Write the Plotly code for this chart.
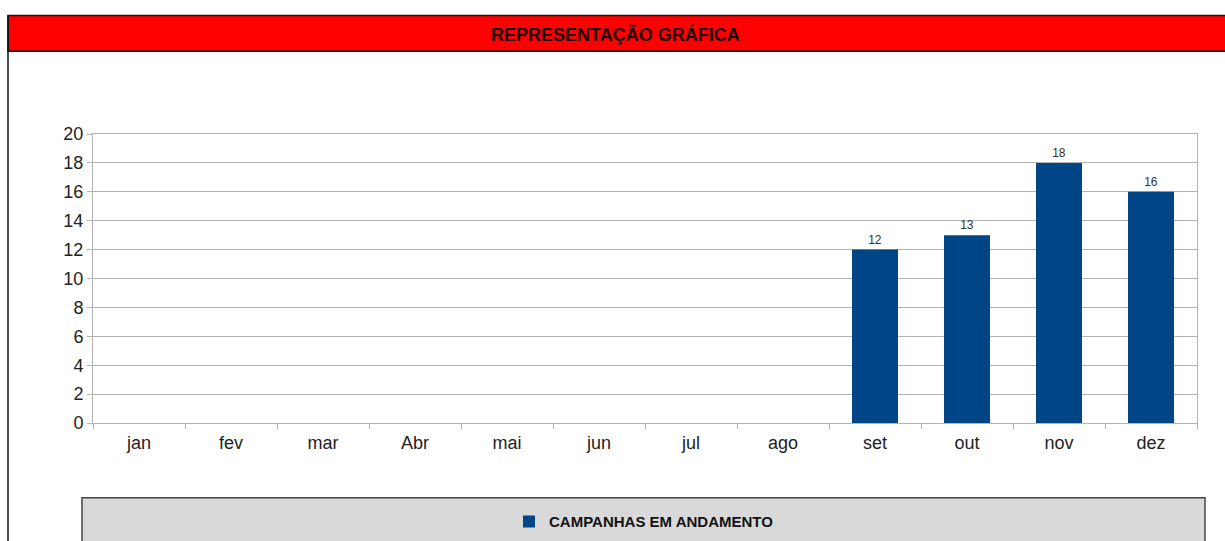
import plotly.graph_objects as go

months = ["jan", "fev", "mar", "Abr", "mai", "jun", "jul", "ago", "set", "out", "nov", "dez"]
campanhas = [None, None, None, None, None, None, None, None, 12, 13, 18, 16]
y_ticks = list(range(0, 21, 2))
series_name = "CAMPANHAS EM ANDAMENTO"
title_text = "REPRESENTAÇÃO GRÁFICA"

W = 1225
H = 550                 # page is captured slightly taller and squeezed to 541
S = H / 541.0
L, R = 93, 1197
T, B = 132 * S, 422 * S


def px(x):
    return (x - L) / (R - L)


def py(y):
    return (B - y * S) / (B - T)


fig = go.Figure()
fig.add_trace(go.Bar(
    x=months, y=campanhas, name="<b>" + series_name + "</b>",
    marker=dict(color="#004586", line=dict(width=0)),
    width=0.5,
    text=[("" if v is None else str(v)) for v in campanhas],
    textposition="outside",
    textfont=dict(family="Liberation Sans, Arial, sans-serif", size=12, color="#333333"),
    cliponaxis=False,
    showlegend=True,
))

shapes = [
    # red title band
    dict(type="rect", xref="paper", yref="paper", x0=px(8), x1=px(1228), y0=py(49), y1=py(13),
         fillcolor="#ff0000", line=dict(color="#111111", width=1.5), layer="below"),
    # left border
    dict(type="line", xref="paper", yref="paper", x0=px(8), x1=px(8), y0=py(13), y1=py(560),
         line=dict(color="#111111", width=1.5)),
    # legend box
    dict(type="rect", xref="paper", yref="paper", x0=px(82), x1=px(1205), y0=py(580), y1=py(497),
         fillcolor="#d9d9d9", line=dict(color="#444444", width=1.5), layer="below"),
]

fig.add_annotation(
    xref="paper", yref="paper", x=px(615), y=py(32), text="<b>" + title_text + "</b>",
    showarrow=False, xanchor="center", yanchor="middle",
    font=dict(family="Liberation Sans Narrow, Liberation Sans, Arial Narrow, sans-serif", size=18, color="#1a0000"),
)

fig.update_layout(
    width=W, height=H,
    margin=dict(l=L, r=W - R, t=T, b=H - B, pad=0),
    paper_bgcolor="white", plot_bgcolor="white",
    shapes=shapes,
    bargap=0.5,
    legend=dict(
        orientation="h", x=px(644), xanchor="center", y=py(521), yanchor="middle",
        bgcolor="rgba(0,0,0,0)",
        font=dict(family="Liberation Sans Narrow, Liberation Sans, Arial, sans-serif", size=15, color="#111111"),
        itemwidth=30,
    ),
    font=dict(family="Liberation Sans, Arial, sans-serif"),
)

fig.update_xaxes(
    type="category", categoryorder="array", categoryarray=months,
    showline=True, linecolor="#b3b3b3", linewidth=1, mirror=True,
    ticks="outside", tickson="boundaries", ticklen=5, tickcolor="#b3b3b3",
    tickfont=dict(size=18, color="#222222"), ticklabelstandoff=3,
    showgrid=False,
)
fig.update_yaxes(
    range=[0, 20], tickvals=y_ticks,
    showline=True, linecolor="#b3b3b3", linewidth=1, mirror=True,
    ticks="outside", ticklen=5, tickcolor="#b3b3b3",
    gridcolor="#b3b3b3", gridwidth=1, zeroline=False,
    tickfont=dict(size=18, color="#222222"),
)

css_fix = (
    "var s=document.createElement('style');"
    "s.textContent='html,body{margin:0;padding:0;overflow:hidden;}';"
    "document.head.appendChild(s);"
)

fig.write_html(
    "out.html",
    config={"displayModeBar": False, "responsive": False},
    post_script=css_fix,
)
